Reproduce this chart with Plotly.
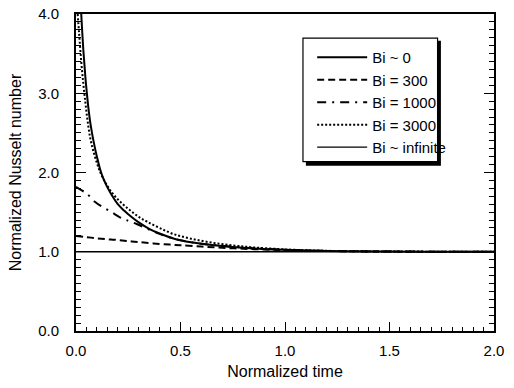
import plotly.graph_objects as go

# ---- data ----
t_bi0 = [0.025, 0.035, 0.045, 0.052, 0.06, 0.07, 0.085, 0.10, 0.12, 0.145, 0.17, 0.20, 0.23, 0.26, 0.30, 0.35, 0.40, 0.47, 0.55, 0.65, 0.75, 0.85, 1.0, 1.15, 1.3, 1.5, 1.75, 2.0]
nu_bi0 = [4.0, 3.55, 3.2, 3.0, 2.8, 2.6, 2.38, 2.2, 2.0, 1.84, 1.72, 1.6, 1.52, 1.45, 1.37, 1.29, 1.23, 1.165, 1.12, 1.085, 1.06, 1.042, 1.025, 1.013, 1.007, 1.003, 1.001, 1.0]

t_bi300 = [0.0, 0.05, 0.10, 0.15, 0.20, 0.25, 0.30, 0.37, 0.45, 0.50, 0.60, 0.70, 0.80, 0.90, 1.0, 1.15, 1.3, 1.5, 2.0]
nu_bi300 = [1.2, 1.185, 1.17, 1.157, 1.148, 1.135, 1.122, 1.105, 1.09, 1.082, 1.065, 1.05, 1.038, 1.028, 1.02, 1.012, 1.006, 1.002, 1.0]

t_bi1000 = [0.0, 0.03, 0.05, 0.09, 0.13, 0.17, 0.21, 0.24, 0.29, 0.35, 0.40, 0.47, 0.55, 0.65, 0.75, 0.85, 1.0, 1.15, 1.3, 1.5, 2.0]
nu_bi1000 = [1.82, 1.77, 1.74, 1.63, 1.56, 1.5, 1.435, 1.4, 1.35, 1.28, 1.225, 1.165, 1.12, 1.088, 1.063, 1.045, 1.025, 1.013, 1.007, 1.003, 1.0]

t_bi3000 = [0.008, 0.015, 0.025, 0.035, 0.045, 0.055, 0.067, 0.08, 0.10, 0.12, 0.15, 0.18, 0.22, 0.26, 0.30, 0.34, 0.40, 0.47, 0.55, 0.65, 0.75, 0.85, 1.0, 1.15, 1.3, 1.5, 1.75, 2.0]
nu_bi3000 = [4.0, 3.75, 3.4, 3.12, 2.88, 2.66, 2.45, 2.3, 2.12, 1.98, 1.83, 1.72, 1.61, 1.52, 1.44, 1.38, 1.3, 1.22, 1.165, 1.115, 1.08, 1.055, 1.03, 1.015, 1.008, 1.003, 1.001, 1.0]

t_biinf = [0.0, 2.0]
nu_biinf = [1.0, 1.0]

labels = ["Bi ~ 0", "Bi = 300", "Bi = 1000", "Bi = 3000", "Bi ~ infinite"]

x_ticks = [0.0, 0.5, 1.0, 1.5, 2.0]
y_ticks = [0.0, 1.0, 2.0, 3.0, 4.0]

FONT = "Liberation Sans, Arial, Helvetica, sans-serif"

fig = go.Figure()
series = [
    (t_bi0, nu_bi0, labels[0], dict(color="black", width=2, dash="solid"), "spline"),
    (t_bi300, nu_bi300, labels[1], dict(color="black", width=2, dash="7px,4px"), "spline"),
    (t_bi1000, nu_bi1000, labels[2], dict(color="black", width=2, dash="9px,6px,2px,6px"), "spline"),
    (t_bi3000, nu_bi3000, labels[3], dict(color="black", width=2, dash="2px,2px"), "spline"),
    (t_biinf, nu_biinf, labels[4], dict(color="black", width=1.3, dash="solid"), "linear"),
]
for i, (x, y, name, line, shp) in enumerate(series):
    fig.add_trace(go.Scatter(x=x, y=y, mode="lines", name=name,
                             line=dict(shape=shp, **line)))

axis_common = dict(
    showgrid=False, zeroline=False, showline=True, linecolor="black", linewidth=2,
    ticks="inside", tickcolor="black", tickwidth=1, automargin=False,
    ticklabeloverflow="allow",
    tickfont=dict(family=FONT, size=15, color="black"),
)

fig.update_xaxes(
    range=[0, 2.0], tickvals=x_ticks, ticktext=[f"{v:.1f}" for v in x_ticks], ticklen=9,
    minor=dict(dtick=0.05, ticks="inside", ticklen=4, tickcolor="black", tickwidth=1, showgrid=False),
    mirror=True, ticklabelstandoff=5,
    title=dict(text="Normalized time", font=dict(family=FONT, size=16, color="black"), standoff=8),
    **axis_common,
)
fig.update_yaxes(
    range=[0, 4.0], tickvals=y_ticks, ticktext=[f"{v:.1f}" for v in y_ticks], ticklen=10,
    minor=dict(dtick=0.1, ticks="inside", ticklen=5, tickcolor="black", tickwidth=1, showgrid=False),
    mirror="ticks", ticklabelstandoff=12,
    title=dict(text="Normalized Nusselt number", font=dict(family=FONT, size=16, color="black"), standoff=13),
    **axis_common,
)

# legend frame with drop shadow
fig.add_shape(type="rect", xref="paper", yref="paper", x0=0.550, x1=0.873, y0=0.521, y1=0.916,
              line=dict(width=0), fillcolor="black", layer="above")
fig.add_shape(type="rect", xref="paper", yref="paper", x0=0.543, x1=0.865, y0=0.534, y1=0.924,
              line=dict(width=1.2, color="black"), fillcolor="white", layer="above")

fig.update_layout(
    width=514, height=388,
    margin=dict(l=76, r=20, t=14, b=57),
    paper_bgcolor="white", plot_bgcolor="white",
    font=dict(family=FONT, size=14, color="black"),
    showlegend=True,
    hovermode=False,
    legend=dict(x=0.565, y=0.915, xanchor="left", yanchor="top", bgcolor="rgba(0,0,0,0)",
                borderwidth=0, font=dict(family=FONT, size=15, color="black"),
                itemwidth=50),
)

# remove the browser's default 8px body margin so the figure sits at the page origin
fig.write_html("out.html", config={"displayModeBar": False},
               post_script="document.body.style.margin='0px';")
